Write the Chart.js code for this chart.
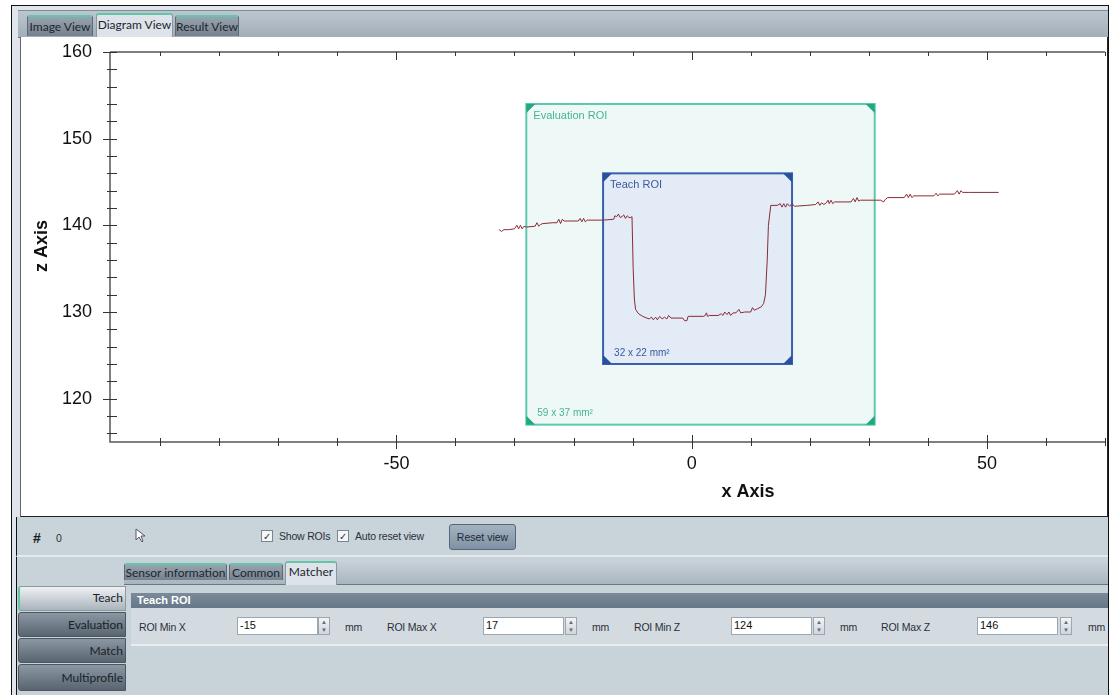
<!DOCTYPE html>
<html>
<head>
<meta charset="utf-8">
<script src="https://cdn.jsdelivr.net/npm/chart.js@4.4.1/dist/chart.umd.min.js"></script>
<style>
    body { margin: 0; width: 1114px; height: 695px; background: #fff; position: relative; overflow: hidden; font-family: "Liberation Sans", Arial, sans-serif; }
    .abs { position: absolute; box-sizing: border-box; }
    .frame { left: 11px; top: 5px; width: 1098px; height: 700px; border: 1px solid #111; background: #dfe5ea; }
    .tabbar { left: 18px; top: 10px; width: 1090px; height: 28px; background: linear-gradient(#bcc6ce, #a2aeb8); border-top: 1px solid #7f8b95; border-bottom: 1px solid #6f7b85; }
    .tab { font-family: Lato, "Open Sans", sans-serif; font-size: 12px; color: #1c2630; text-align: center; line-height: 19px; border-top: 2px solid #62c7a9; border-radius: 3px 3px 0 0; }
    .tab.dark { background: linear-gradient(#97a3ae, #75818d); border-left: 1px solid #5d6974; border-right: 1px solid #5d6974; }
    .tab.light { background: #dde3e8; border-left: 1px solid #8b96a0; border-right: 1px solid #8b96a0; }
    .chartbox { left: 20px; top: 37px; width: 1088px; height: 480px; background: #fff; border-left: 1px solid #666; border-right: 1px solid #222; border-bottom: 1px solid #222; }
    canvas { position: absolute; left: 21px; top: 38px; }
    .toolbar { left: 16px; top: 517px; width: 1092px; height: 40px; background: #c9d3da; border-left: 1px solid #111; border-bottom: 2px solid #e3e9ed; }
    .small { font-size: 10.5px; color: #2a3038; letter-spacing: -0.2px; }
    .check { width: 12px; height: 12px; border: 1px solid #7a8590; background: #f4f6f8; font-size: 10px; line-height: 11px; text-align: center; color: #334; }
    .btn { left: 449px; top: 524px; width: 67px; height: 26px; background: linear-gradient(#a4b3c2, #7f91a3); border: 1px solid #56677a; border-radius: 3px; font-size: 10.5px; line-height: 24px; text-align: center; color: #1e2a36; }
    .lower { left: 16px; top: 557px; width: 1092px; height: 140px; background: #c8d2d9; border-left: 1px solid #111; }
    .tabrow { left: 124px; top: 562px; width: 984px; height: 23px; background: linear-gradient(#c6d0d7, #a9b5bf); border-bottom: 1px solid #6a7884; }
    .side { left: 18px; width: 108px; font-family: Lato, "Open Sans", sans-serif; font-size: 12px; color: #1b2128; text-align: right; padding-right: 2px; border-radius: 3px 0 0 3px; }
    .side.dark { background: linear-gradient(#8b98a4, #58646f); border: 1px solid #4b5661; }
    .side.light { background: linear-gradient(#eef1f3, #aab4bc); border: 1px solid #8e99a2; border-left: 2px solid #5fc8a8; }
    .head { left: 131px; top: 593px; width: 977px; height: 15px; background: linear-gradient(#7a8a98, #66778a); color: #fff; font-weight: bold; font-size: 11px; line-height: 15px; padding-left: 6px; }
    .fields { left: 131px; top: 608px; width: 977px; height: 38px; background: #d3dbe1; border-bottom: 2px solid #e8edf0; }
    .lbl { font-size: 10.5px; letter-spacing: -0.2px; color: #2a3038; top: 621px; }
    .inp { top: 617px; height: 18px; width: 81px; background: #fff; border: 1px solid #9aa6b0; font-size: 11px; line-height: 15px; padding-left: 2px; color: #111; }
    .spin { top: 617px; width: 12px; height: 18px; background: linear-gradient(#f2f4f6, #cfd6dc); border: 1px solid #9aa6b0; font-size: 6px; line-height: 8px; text-align: center; color: #667; }
</style>
</head>
<body>
<div class="abs frame"></div>
<div class="abs tabbar"></div>
<div class="abs tab dark" style="left:27px;top:15px;width:66px;height:21px;">Image View</div>
<div class="abs tab light" style="left:96px;top:13px;width:77px;height:25px;">Diagram View</div>
<div class="abs tab dark" style="left:175px;top:15px;width:64px;height:21px;">Result View</div>
<div class="abs chartbox"></div>
<canvas id="profileChart" width="1086" height="478"></canvas>

<div class="abs toolbar"></div>
<div class="abs" style="left:33px;top:530px;font-weight:bold;font-size:14px;color:#1a1f25;">#</div>
<div class="abs small" style="left:56px;top:532px;">0</div>
<svg class="abs" style="left:135px;top:528px;" width="12" height="16"><polygon points="1,1 1,12 4,9 7,14 8,13 6,8 10,8" fill="#fff" stroke="#556" stroke-width="1"/></svg>
<div class="abs check" style="left:261px;top:530px;">✓</div>
<div class="abs small" style="left:279px;top:530px;">Show ROIs</div>
<div class="abs check" style="left:337px;top:530px;">✓</div>
<div class="abs small" style="left:355px;top:530px;">Auto reset view</div>
<div class="abs btn">Reset view</div>

<div class="abs lower"></div>
<div class="abs tabrow"></div>
<div class="abs tab dark" style="left:124px;top:563px;width:103px;height:17px;line-height:15px;">Sensor information</div>
<div class="abs tab dark" style="left:229px;top:563px;width:54px;height:17px;line-height:15px;">Common</div>
<div class="abs tab light" style="left:285px;top:561px;width:52px;height:24px;line-height:17px;">Matcher</div>

<div class="abs side light" style="top:586px;height:25px;line-height:22px;">Teach</div>
<div class="abs side dark" style="top:612px;height:25px;line-height:23px;">Evaluation</div>
<div class="abs side dark" style="top:638px;height:25px;line-height:23px;">Match</div>
<div class="abs side dark" style="top:664px;height:27px;line-height:25px;">Multiprofile</div>

<div class="abs head">Teach ROI</div>
<div class="abs fields"></div>
<div class="abs lbl" style="left:139px;">ROI Min X</div>
<div class="abs inp" style="left:237px;">-15</div>
<div class="abs spin" style="left:318px;">▲<br>▼</div>
<div class="abs lbl" style="left:345px;">mm</div>
<div class="abs lbl" style="left:387px;">ROI Max X</div>
<div class="abs inp" style="left:483px;">17</div>
<div class="abs spin" style="left:565px;">▲<br>▼</div>
<div class="abs lbl" style="left:592px;">mm</div>
<div class="abs lbl" style="left:634px;">ROI Min Z</div>
<div class="abs inp" style="left:731px;">124</div>
<div class="abs spin" style="left:813px;">▲<br>▼</div>
<div class="abs lbl" style="left:840px;">mm</div>
<div class="abs lbl" style="left:881px;">ROI Max Z</div>
<div class="abs inp" style="left:977px;">146</div>
<div class="abs spin" style="left:1060px;">▲<br>▼</div>
<div class="abs lbl" style="left:1088px;">mm</div>

<script>
// axis labels
const xTickLabels = [-50, 0, 50];
const zTickLabels = [120, 130, 140, 150, 160];

// regions of interest
const roiNames = ["Evaluation ROI", "Teach ROI"];
const roiMinX = [-28, -15];
const roiMaxX = [31, 17];
const roiMinZ = [117, 124];
const roiMaxZ = [154, 146];
const roiSizes = ["59 x 37 mm²", "32 x 22 mm²"];

// measured profile (x in mm, z in mm)
const profileX = [
    -32.6, -32.2, -31.8, -31.0, -30.0, -29.6, -29.3, -29.0, -28.7, -28.4, -28.0, -26.5, -26.2, -25.9, -25.6, -25.2,
    -23.5, -22.8, -22.5, -22.2, -21.9, -21.6, -19.2, -18.9, -18.6, -18.3, -18.0, -17.7, -17.4, -15.0, -13.2, -13.0,
    -12.7, -12.4, -12.1, -11.8, -11.5, -11.2, -10.9, -10.6, -10.3, -10.1, -9.9, -9.7, -9.5, -9.0, -8.3, -7.6,
    -7.2, -6.8, -6.5, -6.1, -5.8, -5.4, -5.0, -4.6, -4.2, -3.9, -3.5, -3.0, -1.5, -1.2, -0.8, -0.6,
    -0.3, 2.0, 2.3, 2.5, 2.7, 3.0, 4.5, 5.0, 5.3, 5.6, 6.0, 6.3, 6.6, 7.0, 7.5, 8.0,
    8.3, 9.0, 10.0, 10.3, 10.6, 11.2, 11.8, 12.2, 12.5, 12.8, 13.0, 13.4, 14.5, 15.0, 15.3, 15.6,
    15.9, 16.2, 16.6, 17.0, 17.4, 19.5, 21.0, 21.4, 21.7, 22.0, 22.4, 22.8, 23.1, 23.3, 23.6, 23.9,
    24.2, 27.0, 27.4, 27.7, 28.0, 28.3, 28.6, 32.0, 32.5, 32.8, 33.2, 36.0, 36.4, 36.7, 37.0, 37.3,
    37.6, 41.0, 41.4, 41.7, 42.0, 44.5, 45.0, 45.3, 45.6, 45.9, 47.0, 52.0
];
const profileZ = [
    139.5, 139.3, 139.5, 139.5, 139.6, 140.0, 139.6, 140.0, 139.6, 139.9, 139.8, 139.9, 140.3, 139.9, 140.1, 140.2,
    140.3, 140.3, 140.7, 140.2, 140.7, 140.5, 140.5, 140.8, 140.4, 140.8, 140.4, 140.6, 140.6, 140.6, 140.7, 141.1,
    141.0, 141.3, 140.9, 141.0, 141.2, 140.8, 141.1, 140.9, 140.9, 141.0, 135.0, 131.5, 130.3, 129.8, 129.5, 129.3,
    129.2, 129.4, 129.1, 129.4, 129.1, 129.5, 129.2, 129.4, 129.2, 129.6, 129.3, 129.3, 129.3, 129.0, 129.0, 129.5,
    129.5, 129.5, 129.6, 129.9, 129.5, 129.6, 129.6, 129.8, 129.6, 130.0, 129.7, 130.0, 129.6, 129.9, 129.9, 130.3,
    129.9, 130.0, 130.0, 130.5, 130.2, 130.4, 130.6, 131.0, 132.0, 136.0, 140.0, 142.3, 142.3, 142.5, 142.1, 142.5,
    142.1, 142.5, 142.2, 142.5, 142.2, 142.3, 142.4, 142.7, 142.3, 142.6, 142.4, 142.6, 142.9, 142.5, 142.9, 142.5,
    142.7, 142.7, 143.1, 142.7, 143.2, 142.8, 142.9, 142.9, 142.7, 143.0, 143.2, 143.2, 143.6, 143.2, 143.6, 143.2,
    143.4, 143.4, 143.7, 143.4, 143.6, 143.6, 144.0, 143.6, 144.0, 143.8, 143.8, 143.8
];

const roiStyles = [
    { fill: "#eef8f6", line: "#5ccaaf", corner: "#1fa982", text: "#45b496" },
    { fill: "#e3ebf6", line: "#3b5fae", corner: "#27509f", text: "#3a5a9e" }
];

const roiPlugin = {
    id: "roiBoxes",
    beforeDatasetsDraw(chart) {
        const { ctx, scales: { x, y } } = chart;
        ctx.save();
        roiNames.forEach((name, i) => {
            const st = roiStyles[i];
            const l = x.getPixelForValue(roiMinX[i]);
            const r = x.getPixelForValue(roiMaxX[i]);
            const t = y.getPixelForValue(roiMaxZ[i]);
            const b = y.getPixelForValue(roiMinZ[i]);
            ctx.fillStyle = st.fill;
            ctx.fillRect(l, t, r - l, b - t);
            ctx.strokeStyle = st.line;
            ctx.lineWidth = 2;
            ctx.strokeRect(l, t, r - l, b - t);
            // corner grips
            const s = 9;
            ctx.fillStyle = st.corner;
            [[l, t, 1, 1], [r, t, -1, 1], [l, b, 1, -1], [r, b, -1, -1]].forEach(([cx, cy, dx, dy]) => {
                ctx.beginPath();
                ctx.moveTo(cx, cy);
                ctx.lineTo(cx + dx * s, cy);
                ctx.lineTo(cx, cy + dy * s);
                ctx.closePath();
                ctx.fill();
            });
            ctx.fillStyle = st.text;
            ctx.textBaseline = "middle";
            ctx.textAlign = "left";
            ctx.font = "11px 'Liberation Sans', Arial, sans-serif";
            ctx.fillText(name, l + 7, t + 12);
            ctx.font = "10px 'Liberation Sans', Arial, sans-serif";
            ctx.fillText(roiSizes[i], l + 11, b - 11);
        });
        ctx.restore();
    }
};

const axesPlugin = {
    id: "axesLook",
    afterDraw(chart) {
        const { ctx, chartArea: a, scales: { x, y } } = chart;
        ctx.save();
        ctx.strokeStyle = "#555";
        ctx.lineWidth = 1.5;
        ctx.beginPath();
        ctx.moveTo(a.left, a.top);
        ctx.lineTo(a.right, a.top);
        ctx.moveTo(a.left, a.top);
        ctx.lineTo(a.left, a.bottom);
        ctx.lineTo(a.right, a.bottom);
        ctx.stroke();
        ctx.lineWidth = 1;
        ctx.strokeStyle = "#333";
        ctx.beginPath();
        x.ticks.forEach(t => {
            const px = Math.round(x.getPixelForValue(t.value)) + 0.5;
            const major = t.value % 50 === 0;
            ctx.moveTo(px, a.bottom - (major ? 7 : 4));
            ctx.lineTo(px, a.bottom + (major ? 7 : 4));
            ctx.moveTo(px, a.top);
            ctx.lineTo(px, a.top + (major ? 8 : 4));
        });
        y.ticks.forEach(t => {
            const py = Math.round(y.getPixelForValue(t.value)) + 0.5;
            const major = t.value % 10 === 0;
            ctx.moveTo(a.left - (major ? 7 : 3), py);
            ctx.lineTo(a.left + 7, py);
        });
        ctx.stroke();
        ctx.fillStyle = "#111";
        ctx.font = "bold 18px 'Liberation Sans', Arial, sans-serif";
        ctx.textAlign = "center";
        ctx.textBaseline = "middle";
        ctx.fillText("x Axis", 727, 454);
        ctx.translate(21, 208);
        ctx.rotate(-Math.PI / 2);
        ctx.fillText("z Axis", 0, 0);
        ctx.restore();
    }
};

new Chart(document.getElementById("profileChart"), {
    type: "scatter",
    data: {
        datasets: [{
            data: profileX.map((v, i) => ({ x: v, y: profileZ[i] })),
            showLine: true,
            borderColor: "#8a2a38",
            borderWidth: 1,
            pointRadius: 0,
            tension: 0
        }]
    },
    options: {
        responsive: false,
        animation: false,
        layout: { padding: { top: 14, right: 2, left: 0, bottom: 0 } },
        plugins: { legend: { display: false }, tooltip: { enabled: false } },
        scales: {
            x: {
                type: "linear",
                min: -98.5,
                max: 70,
                grid: { display: false, drawTicks: false },
                border: { display: false },
                afterBuildTicks: s => {
                    const vals = [];
                    for (let v = -90; v <= 70; v += 10) vals.push({ value: v });
                    s.ticks = vals;
                },
                ticks: {
                    autoSkip: false,
                    maxRotation: 0,
                    padding: 11,
                    color: "#111",
                    font: { family: "'Liberation Sans', Arial, sans-serif", size: 18 },
                    callback: v => xTickLabels.includes(v) ? String(v) : ""
                },
                afterFit: s => { s.height = 74; s.paddingLeft = 0; s.paddingRight = 0; }
            },
            y: {
                type: "linear",
                min: 115,
                max: 160,
                grid: { display: false, drawTicks: false },
                border: { display: false },
                afterBuildTicks: s => {
                    const vals = [];
                    for (let v = 116; v <= 160; v += 2) vals.push({ value: v });
                    s.ticks = vals;
                },
                ticks: {
                    autoSkip: false,
                    padding: 18,
                    color: "#111",
                    font: { family: "'Liberation Sans', Arial, sans-serif", size: 18 },
                    callback: v => zTickLabels.includes(v) ? String(v) : ""
                },
                afterFit: s => { s.width = 89; s.paddingTop = 0; s.paddingBottom = 0; }
            }
        }
    },
    plugins: [roiPlugin, axesPlugin]
});
</script>
</body>
</html>
